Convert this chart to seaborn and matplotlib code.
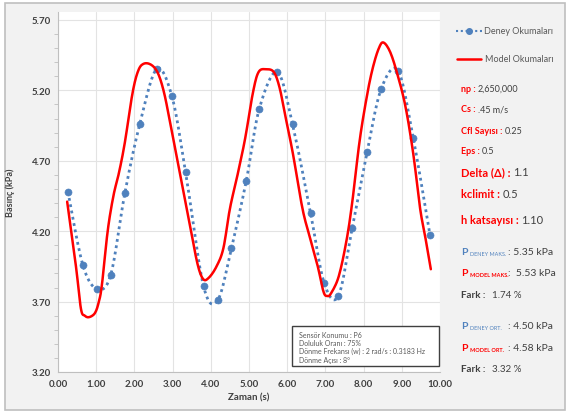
import numpy as np
import pandas as pd
import matplotlib
matplotlib.use("Agg")
import matplotlib.pyplot as plt
import seaborn as sns
from matplotlib.lines import Line2D
from matplotlib.patches import Rectangle

# -------------------
# Data
# -------------------
deney_t = [0.26, 0.65, 1.02, 1.38, 1.75, 2.14, 2.58, 2.98, 3.34, 3.81, 4.18, 4.54, 4.93,
           5.27, 5.74, 6.14, 6.61, 6.97, 7.34, 7.70, 8.09, 8.46, 8.90, 9.30, 9.74]
deney_p = [4.48, 3.96, 3.79, 3.89, 4.47, 4.96, 5.35, 5.16, 4.62, 3.81, 3.71, 4.08, 4.56,
           5.07, 5.33, 4.96, 4.33, 3.83, 3.74, 4.22, 4.76, 5.21, 5.34, 4.86, 4.17]

model_t = [0.24, 0.47, 0.60, 0.70, 0.82, 0.97, 1.07, 1.15, 1.30, 1.45, 1.60, 1.75, 1.95,
           2.10, 2.25, 2.45, 2.62, 2.78, 2.95, 3.20, 3.45, 3.65, 3.80, 3.95, 4.15, 4.33,
           4.50, 4.70, 4.90, 5.10, 5.25, 5.45, 5.65, 5.80, 5.95, 6.15, 6.40, 6.60, 6.80,
           6.95, 7.05, 7.15, 7.35, 7.55, 7.70, 7.90, 8.10, 8.25, 8.40, 8.52, 8.70, 8.90,
           9.10, 9.30, 9.48, 9.62, 9.76]
model_p = [4.41, 3.95, 3.65, 3.60, 3.59, 3.62, 3.70, 3.82, 4.20, 4.45, 4.62, 4.83, 5.18,
           5.34, 5.39, 5.38, 5.32, 5.18, 4.95, 4.60, 4.25, 3.97, 3.86, 3.87, 3.95, 4.08,
           4.36, 4.60, 4.86, 5.18, 5.33, 5.35, 5.33, 5.22, 5.02, 4.75, 4.36, 4.15, 3.95,
           3.77, 3.74, 3.76, 3.88, 4.13, 4.40, 4.85, 5.18, 5.37, 5.50, 5.54, 5.47, 5.30,
           5.08, 4.75, 4.36, 4.15, 3.93]

params = [("np : ", "2,650,000", 6.5), ("Cs : ", ".45 m/s", 6.5), ("Cfl Sayısı : ", "0.25", 6.5),
          ("Eps : ", "0.5", 6.5), ("Delta (Δ) : ", "1.1", 8), ("kclimit : ", "0.5", 8),
          ("h katsayısı : ", "1.10", 8)]
info_lines = ["Sensör Konumu : P6", "Doluluk Oranı : 75%",
              "Dönme Frekansı (w) : 2 rad/s : 0.3183 Hz", "Dönme Açısı : 8°"]

BLUE = "#4f81bd"
RED = "#ff0000"
GREY = "#404040"


def smooth(x, y, n=20):
    # Excel-like smoothed line (Catmull-Rom through the points)
    x = np.asarray(x, float)
    y = np.asarray(y, float)
    px = np.r_[x[0], x, x[-1]]
    py = np.r_[y[0], y, y[-1]]
    xs, ys = [], []
    t = np.linspace(0, 1, n, endpoint=False)
    for i in range(1, len(px) - 2):
        for arr, out in ((px, xs), (py, ys)):
            p0, p1, p2, p3 = arr[i - 1], arr[i], arr[i + 1], arr[i + 2]
            out.extend(0.5 * (2 * p1 + (-p0 + p2) * t + (2 * p0 - 5 * p1 + 4 * p2 - p3) * t ** 2
                              + (-p0 + 3 * p1 - 3 * p2 + p3) * t ** 3))
    xs.append(x[-1])
    ys.append(y[-1])
    return np.array(xs), np.array(ys)


sns.set_style("whitegrid")
plt.rcParams["font.family"] = ["Lato", "DejaVu Sans"]

W, H = 568, 414
fig = plt.figure(figsize=(W / 100, H / 100), dpi=100)
fig.patch.set_facecolor("white")


def fx(x):
    return x / W


def fy(y):
    return 1 - y / H


fig.add_artist(Rectangle((fx(5), fy(411)), fx(560), 407 / H, transform=fig.transFigure,
                         facecolor="#f2f2f2", edgecolor="#bfbfbf", lw=1.2, zorder=0))

ax = fig.add_axes([fx(58), fy(373), fx(440 - 58), (373 - 13) / H])
ax.set_facecolor("white")

sx, sy = smooth(deney_t, deney_p)
sns.lineplot(x=sx, y=sy, ax=ax, color=BLUE, lw=2, linestyle=(0, (1, 1.3)), sort=False)
sns.scatterplot(x=deney_t, y=deney_p, ax=ax, color=BLUE, s=26, edgecolor=BLUE, zorder=3)
mx, my = smooth(model_t, model_p, 8)
sns.lineplot(x=mx, y=my, ax=ax, color=RED, lw=1.8, sort=False, zorder=4)

ax.set_xlim(0, 10)
ax.set_ylim(3.2, 3.2 + 360 / 140.8)
ax.set_xticks(np.arange(0, 10.01, 1))
ax.set_yticks(np.arange(3.2, 5.71, 0.5))
ax.set_yticks(np.arange(3.2, 5.71, 0.1), minor=True)
ax.set_xticklabels([f"{v:.2f}" for v in np.arange(0, 10.01, 1)])
ax.set_yticklabels([f"{v:.2f}" for v in np.arange(3.2, 5.71, 0.5)])
ax.tick_params(axis="both", labelsize=7, colors=GREY, length=0, pad=5)
ax.tick_params(axis="y", which="minor", length=3, color="#bfbfbf", left=True)
for lab in ax.get_xticklabels() + ax.get_yticklabels():
    lab.set_fontweight("bold")
ax.grid(True, color="#e3e3e3", lw=0.8)
for s in ["top", "right"]:
    ax.spines[s].set_visible(False)
for s in ["left", "bottom"]:
    ax.spines[s].set_color("#bfbfbf")
    ax.spines[s].set_linewidth(0.8)
ax.set_xlabel("Zaman (s)", fontsize=7, fontweight="bold", color=GREY, labelpad=3)
ax.set_ylabel("Basınç (kPa)", fontsize=6.5, fontweight="bold", color=GREY, labelpad=12)

# info box inside the plot
fig.add_artist(Rectangle((fx(292), fy(367)), fx(439 - 292), 40 / H, transform=fig.transFigure,
                         facecolor="white", edgecolor="#404040", lw=1, zorder=5))
for i, line in enumerate(info_lines):
    fig.text(fx(299), fy(335 + i * 8.4), line, fontsize=5, color="#595959", va="center", zorder=6)

# legend on the right panel
fig.add_artist(Line2D([fx(456), fx(482)], [fy(32), fy(32)], color=BLUE, lw=1.5,
                      linestyle=(0, (1, 1.3)), transform=fig.transFigure))
fig.add_artist(Line2D([fx(469)], [fy(32)], color=BLUE, marker="o", ms=4,
                      transform=fig.transFigure))
fig.text(fx(484), fy(32), "Deney Okumaları", fontsize=6.5, color="#595959", va="center")
fig.add_artist(Line2D([fx(457), fx(481)], [fy(60), fy(60)], color=RED, lw=1.8,
                      transform=fig.transFigure))
fig.text(fx(485), fy(60), "Model Okumaları", fontsize=6.5, color="#595959", va="center")

fig.canvas.draw()
renderer = fig.canvas.get_renderer()


def pair(x, y, left, right, size, lcolor, rcolor, lweight="bold", gap=0):
    t = fig.text(fx(x), fy(y), left, fontsize=size, color=lcolor, fontweight=lweight, va="center")
    bb = t.get_window_extent(renderer)
    fig.text(fx(bb.x1 + gap), fy(y), right, fontsize=size, color=rcolor, va="center")


ys = [89, 110, 131, 152, 173, 195, 221]
for (lab, val, size), y in zip(params, ys):
    pair(461, y, lab, val, size, RED, GREY)


def ptext(y, sub, val, color):
    t = fig.text(fx(461), fy(y), "P", fontsize=7.5, color=color, fontweight="bold", va="center")
    bb = t.get_window_extent(renderer)
    fig.text(fx(bb.x1 + 2), fy(y + 2), sub, fontsize=4, color=color,
             fontweight="bold" if color == RED else "normal", va="center")
    fig.text(fx(508), fy(y), val, fontsize=7.5, color=GREY, va="center")


ptext(253, "DENEY MAKS.", ": 5.35 kPa", BLUE)
ptext(274, "MODEL MAKS.", ":  5.53 kPa", RED)
fig.text(fx(461), fy(296), "Fark :", fontsize=7, color=GREY, fontweight="bold", va="center")
fig.text(fx(492), fy(296), "1.74 %", fontsize=7, color=GREY, va="center")
ptext(327, "DENEY ORT.", ": 4.50 kPa", BLUE)
ptext(349, "MODEL ORT.", ": 4.58 kPa", RED)
fig.text(fx(461), fy(370), "Fark :", fontsize=7, color=GREY, fontweight="bold", va="center")
fig.text(fx(492), fy(370), "3.32 %", fontsize=7, color=GREY, va="center")

fig.savefig("out.png", dpi=100, facecolor=fig.get_facecolor())
